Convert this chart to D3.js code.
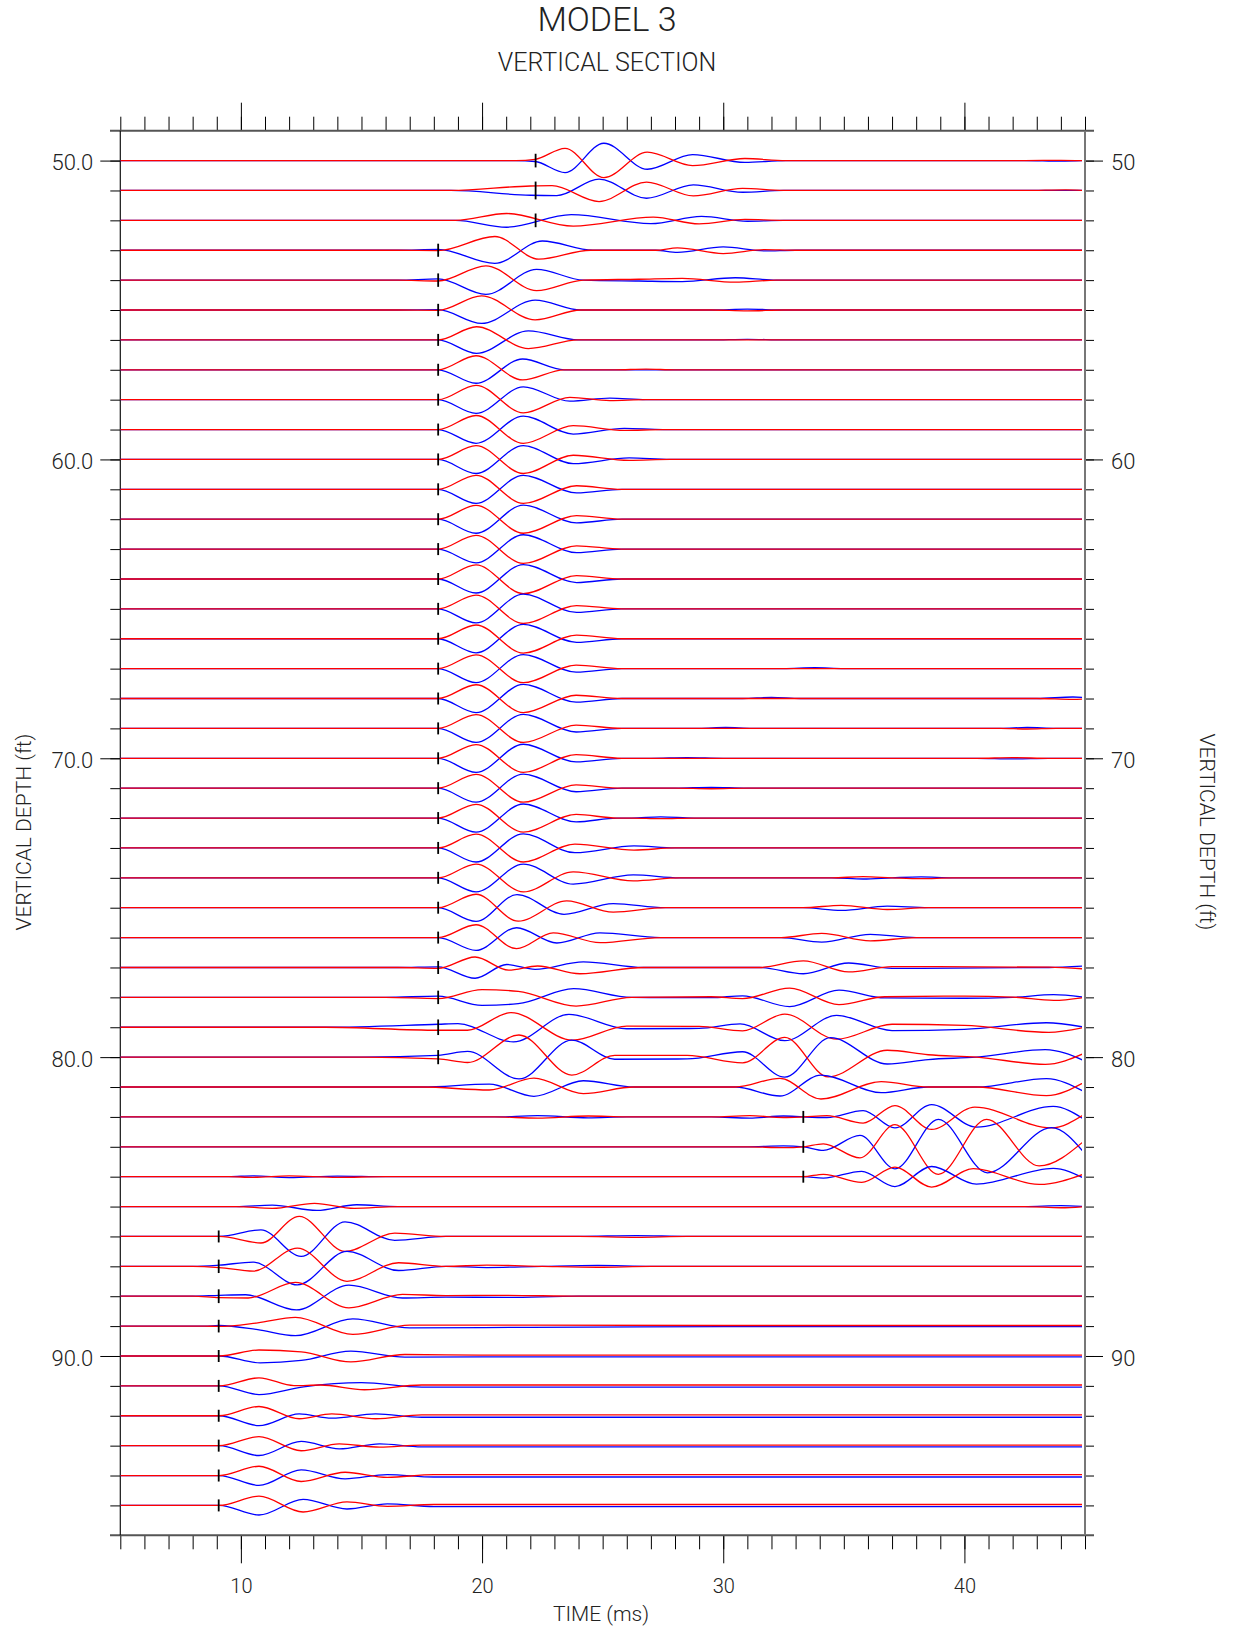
<!DOCTYPE html>
<html><head><meta charset="utf-8">
<script src="https://cdn.jsdelivr.net/npm/d3@7"></script>
<style>
body{margin:0;background:#fff;}
svg{display:block;}
text{font-family:Roboto,"DejaVu Sans",sans-serif;font-weight:300;fill:#222;}
</style>
</head><body>
<svg id="c" width="1233" height="1631"></svg>
<script>
// ---------------- DATA ----------------
const title = "MODEL 3";
const subtitle = "VERTICAL SECTION";
const xTitle = "TIME (ms)";
const yTitle = "VERTICAL DEPTH (ft)";
const xMajorTicks = [10, 20, 30, 40];
const xTickLabels = ["10", "20", "30", "40"];
const yMajorTicks = [50, 60, 70, 80, 90];
const yLeftLabels = ["50.0", "60.0", "70.0", "80.0", "90.0"];
const yRightLabels = ["50", "60", "70", "80", "90"];

const depths = [50,51,52,53,54,55,56,57,58,59,60,61,62,63,64,65,66,67,68,69,70,71,72,73,74,75,76,77,78,79,80,81,82,83,84,85,86,87,88,89,90,91,92,93,94,95];

// first-arrival pick (ms) per trace, null = no pick
const picks = [22.22,22.22,22.22,
  18.18,18.18,18.18,18.18,18.18,18.18,18.18,18.18,18.18,18.18,18.18,18.18,18.18,18.18,
  18.18,18.18,18.18,18.18,18.18,18.18,18.18,18.18,18.18,18.18,18.18,18.18,18.18,18.18,
  null,33.32,33.32,33.32,null,
  9.08,9.08,9.08,9.08,9.08,9.08,9.08,9.08,9.08,9.08];

// red component: [time ms, amplitude ft] control points per trace
const redTraces = [
 /*50*/[[5,0],[21.4,0],[22.2,0.04],[23.44,0.41],[25.05,-0.57],[26.85,0.28],[28.73,-0.17],[30.9,0.07],[32.6,0],[42.5,0],[44,0.01],[45,0]],
 /*51*/[[5,0],[18.7,0],[22.0,0.15],[22.9,0.16],[24.85,-0.37],[26.82,0.28],[28.76,-0.18],[30.8,0.07],[32.5,0],[42.5,0],[44.2,0.02],[45,0]],
 /*52*/[[5,0],[18.9,0],[21.02,0.23],[23.78,-0.19],[27.1,0.11],[29.0,-0.12],[30.9,0.03],[32.5,0],[45,0]],
 /*53*/[[5,0],[16.5,0],[18.18,-0.01],[20.53,0.46],[22.35,-0.30],[24.5,0],[27.2,0],[28.1,0.08],[30.0,-0.11],[31.7,0.02],[33,0],[45,0]],
 /*54*/[[5,0],[16.5,0],[18.18,-0.03],[20.16,0.48],[22.26,-0.35],[24.2,0],[26.5,0.03],[28.3,0.06],[30.5,-0.07],[32.2,0],[45,0]],
 /*55*/[[5,0],[16.5,0],[18.18,-0.01],[19.98,0.47],[22.2,-0.33],[24.1,0],[29.5,0],[31,-0.03],[32.5,0],[45,0]],
 /*56*/[[5,0],[17,0],[18.18,0],[19.77,0.44],[21.92,-0.29],[24.0,0],[45,0]],
 /*57*/[[5,0],[17,0],[18.18,0],[19.75,0.47],[21.68,-0.34],[23.4,0],[25.5,0],[26.8,0.02],[28,0],[45,0]],
 /*58*/[[5,0],[17,0],[18.18,0],[19.75,0.48],[21.71,-0.44],[23.64,0.08],[25.3,-0.03],[26.8,0],[45,0]],
 /*59*/[[5,0],[17,0],[18.18,0],[19.75,0.47],[21.71,-0.46],[23.78,0.13],[25.9,-0.03],[27.5,0],[45,0]],
 /*60*/[[5,0],[17,0],[18.18,0],[19.75,0.46],[21.71,-0.47],[23.78,0.14],[26.1,-0.03],[27.8,0],[45,0]],
 /*61*/[[5,0],[17,0],[18.18,0],[19.75,0.47],[21.71,-0.47],[23.92,0.12],[25.8,0],[45,0]],
 /*62*/[[5,0],[17,0],[18.18,0],[19.75,0.46],[21.71,-0.47],[23.92,0.12],[25.8,0],[45,0]],
 /*63*/[[5,0],[17,0],[18.18,0],[19.75,0.46],[21.71,-0.48],[23.92,0.11],[25.8,0],[45,0]],
 /*64*/[[5,0],[17,0],[18.18,0],[19.75,0.47],[21.71,-0.49],[23.92,0.11],[25.8,0],[45,0]],
 /*65*/[[5,0],[17,0],[18.18,0],[19.75,0.46],[21.71,-0.49],[23.92,0.11],[25.8,0],[45,0]],
 /*66*/[[5,0],[17,0],[18.18,0],[19.75,0.46],[21.71,-0.48],[23.92,0.12],[25.8,0],[45,0]],
 /*67*/[[5,0],[17,0],[18.18,0],[19.75,0.46],[21.71,-0.47],[23.9,0.12],[25.8,0],[45,0]],
 /*68*/[[5,0],[17,0],[18.18,0],[19.75,0.46],[21.71,-0.47],[23.9,0.11],[25.8,0],[43,0],[44.5,-0.03],[45,-0.02]],
 /*69*/[[5,0],[17,0],[18.18,0],[19.75,0.46],[21.71,-0.47],[23.9,0.11],[25.8,0],[41.5,0],[42.6,-0.02],[43.8,0],[45,0]],
 /*70*/[[5,0],[17,0],[18.18,0],[19.75,0.46],[21.71,-0.47],[23.9,0.12],[25.8,0],[40.5,0],[42,0.02],[43.5,0],[45,0]],
 /*71*/[[5,0],[17,0],[18.18,0],[19.75,0.46],[21.71,-0.47],[23.9,0.11],[25.8,0],[28,0],[29.5,-0.02],[31,0],[45,0]],
 /*72*/[[5,0],[17,0],[18.18,0],[19.75,0.46],[21.71,-0.47],[23.9,0.12],[25.6,0],[26.2,0],[27.4,-0.02],[28.8,0],[45,0]],
 /*73*/[[5,0],[17,0],[18.18,0],[19.75,0.46],[21.71,-0.47],[23.85,0.13],[26.3,-0.07],[28,0],[45,0]],
 /*74*/[[5,0],[17,0],[18.18,0],[19.75,0.46],[21.71,-0.47],[23.78,0.20],[26.27,-0.10],[28.2,0],[34.5,0],[35.8,0.04],[37,0],[38.2,-0.03],[39.5,0],[45,0]],
 /*75*/[[5,0],[17,0],[18.18,0],[19.75,0.45],[21.5,-0.45],[23.51,0.23],[25.44,-0.15],[27.6,0],[33.3,0],[34.9,0.08],[36.8,-0.06],[38.5,0],[45,0]],
 /*76*/[[5,0],[17,0],[18.18,0],[19.75,0.43],[21.43,-0.37],[22.95,0.16],[24.9,-0.17],[27.4,0],[32.4,0],[34.08,0.14],[36.1,-0.11],[38,0],[45,0]],
 /*77*/[[5,0],[16.5,0],[18.18,-0.03],[19.71,0.35],[21.1,-0.09],[22.3,0.05],[24.06,-0.21],[26.7,0],[31.5,0],[33.32,0.22],[35.2,-0.15],[37,0.03],[43.5,0.01],[45,-0.05]],
 /*78*/[[5,0],[16,0],[18.18,-0.04],[20.0,0.26],[21.5,0.20],[23.9,-0.29],[26.2,0],[29.5,0.02],[30.8,-0.04],[32.75,0.31],[34.8,-0.24],[36.7,0.02],[40,0.04],[42,0.01],[43.7,-0.10],[45,0]],
 /*79*/[[5,0],[13.5,0],[18.18,-0.10],[19.4,-0.10],[21.2,0.49],[23.75,-0.43],[26.0,0.04],[29.0,0.03],[30.8,-0.12],[32.55,0.44],[34.7,-0.40],[37.0,0.10],[40.0,0.06],[43.5,-0.17],[45,0]],
 /*80*/[[5,0],[15,0],[18.18,-0.06],[19.4,-0.18],[21.53,0.74],[23.72,-0.60],[25.5,0.06],[28.5,0.06],[30.8,-0.19],[32.55,0.66],[34.35,-0.66],[36.8,0.23],[38.5,0.08],[40.5,0],[43.35,-0.24],[45,0.14]],
 /*81*/[[5,0],[17.5,0],[20.3,-0.10],[22.15,0.30],[24.2,-0.22],[26.3,0],[30.5,0],[32.35,0.29],[34.05,-0.40],[36.55,0.18],[38.5,0],[40.5,0],[43.4,-0.29],[45,0.17]],
 /*82*/[[5,0],[20.5,0],[22.3,-0.04],[24.4,0.03],[26,0],[29.5,0],[31.1,0.04],[32.5,-0.02],[33.32,0],[34.3,0.04],[35.8,-0.21],[37.12,0.38],[38.64,-0.42],[40.43,0.33],[43.6,-0.37],[45,0.10]],
 /*83*/[[5,0],[31,0],[32.5,-0.03],[33.32,0],[34.15,0.10],[35.67,-0.37],[37.12,0.74],[38.92,-0.92],[40.92,0.92],[43.1,-0.64],[45,0.22]],
 /*84*/[[5,0],[9.5,0],[10.5,-0.02],[12,0.03],[14,-0.02],[16,0],[32,0],[33.32,0],[34.15,0.08],[35.74,-0.19],[37.12,0.32],[38.64,-0.35],[40.37,0.27],[43.1,-0.26],[45,0.10]],
 /*85*/[[5,0],[9.8,0],[11.3,-0.06],[13.05,0.11],[14.7,-0.06],[16.5,0],[42.5,0],[44,-0.04],[45,0]],
 /*86*/[[5,0],[8.5,0],[9.1,0],[10.83,-0.22],[12.42,0.67],[14.32,-0.50],[16.38,0.11],[18.5,0],[24,0],[26.4,-0.03],[28.5,0],[45,0]],
 /*87*/[[5,0],[8,0],[9.1,-0.04],[10.51,-0.16],[12.34,0.61],[14.4,-0.50],[16.54,0.12],[18.5,0],[20.2,0.04],[22.5,0],[24.8,-0.03],[27,0],[45,0]],
 /*88*/[[5,0],[8,0],[9.1,-0.05],[10.3,-0.06],[12.26,0.46],[14.48,-0.39],[16.7,0.06],[18.5,0.02],[21,0.03],[24,0],[45,0]],
 /*89*/[[5,0],[8.5,0],[9.1,-0.01],[10.7,0.11],[12.26,0.29],[14.64,-0.28],[17.0,0.03],[22,0.03],[30,0.02],[45,0.02]],
 /*90*/[[5,0],[8.5,0],[9.1,0],[10.75,0.20],[12.5,0.14],[14.56,-0.20],[16.8,0.05],[20,0.03],[45,0.03]],
 /*91*/[[5,0],[8.5,0],[9.1,0],[10.75,0.27],[12.2,0.01],[13.3,0.03],[15.12,-0.13],[17.5,0.03],[45,0.03]],
 /*92*/[[5,0],[8.5,0],[9.1,0],[10.75,0.31],[12.42,-0.10],[13.77,0.06],[15.59,-0.10],[17.5,0.03],[45,0.03]],
 /*93*/[[5,0],[8.5,0],[9.1,0],[10.75,0.30],[12.5,-0.17],[14.08,0.06],[15.75,-0.05],[17.5,0.02],[45,0.02]],
 /*94*/[[5,0],[8.5,0],[9.1,0],[10.75,0.31],[12.5,-0.20],[14.32,0.11],[16.07,-0.06],[18,0.03],[45,0.03]],
 /*95*/[[5,0],[8.5,0],[9.1,0],[10.75,0.31],[12.58,-0.22],[14.4,0.12],[16.07,-0.03],[18,0.03],[45,0.03]]
];

// blue component: [time ms, amplitude ft] control points per trace
const blueTraces = [
 /*50*/[[5,0],[21.4,0],[22.2,-0.03],[23.44,-0.40],[25.05,0.58],[26.85,-0.29],[28.73,0.20],[30.9,-0.06],[32.6,0],[42.5,0],[44,-0.02],[45,0]],
 /*51*/[[5,0],[18.7,0],[22.0,-0.16],[23.1,-0.17],[24.85,0.38],[26.82,-0.26],[28.76,0.19],[30.8,-0.06],[32.5,0],[45,0]],
 /*52*/[[5,0],[18.9,0],[21.02,-0.23],[23.7,0.19],[27.0,-0.11],[29.1,0.13],[31.0,-0.03],[32.5,0],[45,0]],
 /*53*/[[5,0],[16.5,0],[18.18,0.03],[20.53,-0.44],[22.5,0.31],[24.6,0],[27.2,0],[28.1,-0.07],[30.0,0.11],[31.7,-0.02],[33,0],[45,0]],
 /*54*/[[5,0],[16.5,0],[18.18,0.04],[20.16,-0.48],[22.26,0.36],[24.2,0],[26.5,-0.03],[28.3,-0.05],[30.5,0.08],[32.2,0],[45,0]],
 /*55*/[[5,0],[16.5,0],[18.18,0.01],[19.98,-0.45],[22.2,0.33],[24.1,0],[29.5,0],[31,0.03],[32.5,0],[45,0]],
 /*56*/[[5,0],[17,0],[18.18,0],[19.77,-0.45],[21.92,0.30],[24.0,0],[29.5,0],[31,0.02],[32.5,0],[45,0]],
 /*57*/[[5,0],[17,0],[18.18,0],[19.75,-0.45],[21.68,0.36],[23.4,0],[45,0]],
 /*58*/[[5,0],[17,0],[18.18,0],[19.75,-0.46],[21.71,0.43],[23.64,-0.05],[25.3,0.05],[26.8,0],[45,0]],
 /*59*/[[5,0],[17,0],[18.18,0],[19.75,-0.46],[21.71,0.45],[23.78,-0.15],[25.9,0.04],[27.5,0],[45,0]],
 /*60*/[[5,0],[17,0],[18.18,0],[19.75,-0.47],[21.71,0.46],[23.78,-0.14],[26.1,0.05],[27.8,0],[45,0]],
 /*61*/[[5,0],[17,0],[18.18,0],[19.75,-0.47],[21.71,0.47],[23.92,-0.12],[25.8,0],[45,0]],
 /*62*/[[5,0],[17,0],[18.18,0],[19.75,-0.47],[21.71,0.47],[23.92,-0.12],[25.8,0],[45,0]],
 /*63*/[[5,0],[17,0],[18.18,0],[19.75,-0.46],[21.71,0.48],[23.92,-0.12],[25.8,0],[45,0]],
 /*64*/[[5,0],[17,0],[18.18,0],[19.75,-0.47],[21.71,0.48],[23.92,-0.12],[25.8,0],[45,0]],
 /*65*/[[5,0],[17,0],[18.18,0],[19.75,-0.47],[21.71,0.49],[23.92,-0.12],[25.8,0],[45,0]],
 /*66*/[[5,0],[17,0],[18.18,0],[19.75,-0.47],[21.71,0.48],[23.92,-0.12],[25.8,0],[45,0]],
 /*67*/[[5,0],[17,0],[18.18,0],[19.75,-0.47],[21.71,0.47],[23.9,-0.12],[25.8,0],[32.5,0],[33.8,0.03],[35,0],[45,0]],
 /*68*/[[5,0],[17,0],[18.18,0],[19.75,-0.47],[21.71,0.47],[23.9,-0.12],[25.8,0],[30.8,0],[32,0.04],[33.2,0],[43,0],[44.5,0.05],[45,0.03]],
 /*69*/[[5,0],[17,0],[18.18,0],[19.75,-0.47],[21.71,0.47],[23.9,-0.12],[25.8,0],[29,0],[30.1,0.03],[31.2,0],[41.5,0],[42.6,0.03],[43.8,0],[45,0]],
 /*70*/[[5,0],[17,0],[18.18,0],[19.75,-0.47],[21.71,0.47],[23.9,-0.12],[25.8,0],[27,0],[28.5,0.02],[30,0],[40.5,0],[42,-0.02],[43.5,0],[45,0]],
 /*71*/[[5,0],[17,0],[18.18,0],[19.75,-0.47],[21.71,0.47],[23.9,-0.12],[25.8,0],[28,0],[29.5,0.03],[31,0],[45,0]],
 /*72*/[[5,0],[17,0],[18.18,0],[19.75,-0.47],[21.71,0.47],[23.9,-0.13],[25.6,0],[26.2,0],[27.4,0.04],[28.8,0],[45,0]],
 /*73*/[[5,0],[17,0],[18.18,0],[19.75,-0.47],[21.71,0.47],[23.85,-0.16],[26.3,0.07],[28,0],[45,0]],
 /*74*/[[5,0],[17,0],[18.18,0],[19.75,-0.47],[21.71,0.46],[23.78,-0.21],[26.27,0.10],[28.2,0],[34.5,0],[35.8,-0.04],[37,0],[38.2,0.03],[39.5,0],[45,0]],
 /*75*/[[5,0],[17,0],[18.18,0],[19.75,-0.46],[21.45,0.44],[23.4,-0.22],[25.44,0.14],[27.6,0],[33.3,0],[34.9,-0.09],[36.8,0.05],[38.5,0],[45,0]],
 /*76*/[[5,0],[17,0],[18.18,0],[19.75,-0.43],[21.43,0.33],[23.1,-0.18],[24.89,0.16],[27.4,0],[32.4,0],[34.08,-0.15],[36.1,0.11],[38,0],[45,0]],
 /*77*/[[5,0],[16.5,0],[18.18,0.02],[19.71,-0.36],[21.02,0.10],[22.2,-0.06],[24.2,0.19],[26.7,0],[31.5,0],[33.32,-0.21],[35.2,0.15],[37,-0.03],[43.5,0],[45,0.05]],
 /*78*/[[5,0],[16,0],[18.18,0.04],[20.0,-0.27],[21.5,-0.21],[23.8,0.29],[26.2,0],[29.5,-0.01],[30.8,0.05],[32.75,-0.31],[34.8,0.24],[36.7,-0.02],[40,-0.03],[42,0],[43.7,0.09],[45,0]],
 /*79*/[[5,0],[13.5,0],[18.18,0.10],[19.0,0.12],[21.3,-0.49],[23.6,0.43],[26.0,-0.05],[29.0,-0.04],[30.7,0.11],[32.55,-0.45],[34.7,0.40],[37.0,-0.11],[40.0,-0.07],[43.4,0.15],[45,0]],
 /*80*/[[5,0],[15,0],[18.18,0.06],[19.4,0.19],[21.53,-0.73],[23.72,0.57],[25.5,-0.07],[28.5,-0.06],[30.8,0.18],[32.55,-0.67],[34.45,0.65],[36.8,-0.23],[38.5,-0.08],[40.5,0],[43.35,0.25],[45,-0.13]],
 /*81*/[[5,0],[17.5,0],[20.3,0.10],[22.15,-0.31],[24.2,0.21],[26.3,0],[30.5,0],[32.35,-0.30],[34.05,0.40],[36.55,-0.19],[38.5,0],[40.5,0],[43.4,0.28],[45,-0.17]],
 /*82*/[[5,0],[20.5,0],[22.3,0.04],[24.4,-0.03],[26,0],[29.5,0],[31.1,-0.04],[32.5,0.03],[33.32,0],[34.3,-0.02],[35.8,0.21],[37.12,-0.37],[38.64,0.41],[40.5,-0.34],[43.68,0.35],[45,-0.10]],
 /*83*/[[5,0],[31,0],[32.5,0.03],[33.32,0],[34.15,-0.12],[35.67,0.38],[37.12,-0.74],[38.92,0.92],[40.95,-0.87],[43.61,0.64],[45,-0.23]],
 /*84*/[[5,0],[9.5,0],[10.5,0.03],[12,-0.03],[14,0.02],[16,0],[32,0],[33.32,0],[34.15,-0.05],[35.74,0.18],[37.12,-0.33],[38.64,0.34],[40.5,-0.25],[43.68,0.28],[45,-0.07]],
 /*85*/[[5,0],[9.8,0],[11.3,0.05],[13.15,-0.13],[14.8,0.06],[16.5,0],[42.5,0],[44,0.03],[45,0]],
 /*86*/[[5,0],[8.5,0],[9.1,0],[10.83,0.22],[12.5,-0.67],[14.32,0.49],[16.38,-0.13],[18.5,0],[24,0],[26.4,0.03],[28.5,0],[45,0]],
 /*87*/[[5,0],[8,0],[9.1,0.04],[10.51,0.14],[12.34,-0.62],[14.4,0.50],[16.54,-0.14],[18.5,0],[20.2,-0.04],[22.5,0],[24.8,0.03],[27,0],[45,0]],
 /*88*/[[5,0],[8,0],[9.1,0.03],[10.2,0.05],[12.3,-0.46],[14.48,0.37],[16.7,-0.06],[18.5,-0.03],[21,-0.04],[24,0],[45,0]],
 /*89*/[[5,0],[8.5,0],[9.1,0.02],[10.7,-0.12],[12.26,-0.32],[14.64,0.24],[17.0,-0.06],[22,-0.04],[30,-0.02],[45,-0.02]],
 /*90*/[[5,0],[8.5,0],[9.1,0],[10.8,-0.23],[12.5,-0.15],[14.56,0.16],[16.8,-0.04],[20,-0.03],[45,-0.03]],
 /*91*/[[5,0],[8.5,0],[9.1,0],[10.75,-0.29],[12.6,-0.03],[15.0,0.11],[17.5,-0.04],[45,-0.04]],
 /*92*/[[5,0],[8.5,0],[9.1,0],[10.75,-0.33],[12.42,0.06],[13.77,-0.08],[15.59,0.06],[17.5,-0.05],[45,-0.05]],
 /*93*/[[5,0],[8.5,0],[9.1,0],[10.75,-0.33],[12.5,0.14],[14.08,-0.11],[15.75,0.06],[17.5,-0.04],[45,-0.04]],
 /*94*/[[5,0],[8.5,0],[9.1,0],[10.75,-0.33],[12.5,0.19],[14.32,-0.11],[16.07,0.03],[18,-0.05],[45,-0.05]],
 /*95*/[[5,0],[8.5,0],[9.1,0],[10.75,-0.32],[12.58,0.20],[14.4,-0.12],[16.07,0.05],[18,-0.04],[45,-0.04]]
];

// ---------------- DRAWING ----------------
const svg = d3.select("#c");
const x = d3.scaleLinear().domain([5, 45]).range([120.3, 1085]);
const y = d3.scaleLinear().domain([49, 96]).range([130.7, 1535.3]);

// titles
svg.append("text").attr("x", 607).attr("y", 31).attr("text-anchor", "middle")
  .style("font-size", "34px").text(title);
svg.append("text").attr("x", 607).attr("y", 71).attr("text-anchor", "middle")
  .style("font-size", "25px").text(subtitle);
svg.append("text").attr("x", 601).attr("y", 1621).attr("text-anchor", "middle")
  .style("font-size", "21px").text(xTitle);
svg.append("text").attr("transform", "translate(31,832) rotate(-90)").attr("text-anchor", "middle")
  .style("font-size", "21px").text(yTitle);
svg.append("text").attr("transform", "translate(1200,832) rotate(90)").attr("text-anchor", "middle")
  .style("font-size", "21px").text(yTitle);

// axes
const minorX = d3.range(5, 46);
const minorY = depths;
function styleAxis(g) {
  g.select(".domain").remove();
  g.selectAll(".tick line").attr("stroke", "#000").attr("stroke-width", 1);
  g.selectAll(".tick text").style("font-size", null).attr("font-family", null);
}
svg.append("g").attr("transform", `translate(0,${y(49)})`)
  .call(d3.axisTop(x).tickValues(minorX).tickSize(14).tickFormat("")).call(styleAxis);
svg.append("g").attr("transform", `translate(0,${y(49)})`)
  .call(d3.axisTop(x).tickValues(xMajorTicks).tickSize(28).tickFormat("")).call(styleAxis);
svg.append("g").attr("transform", `translate(0,${y(96)})`)
  .call(d3.axisBottom(x).tickValues(minorX).tickSize(14).tickFormat("")).call(styleAxis);
const gb = svg.append("g").attr("transform", `translate(0,${y(96)})`)
  .call(d3.axisBottom(x).tickValues(xMajorTicks).tickSize(28).tickPadding(16)
    .tickFormat((d, i) => xTickLabels[i])).call(styleAxis);
gb.selectAll(".tick text").style("font-size", "20px").attr("fill", "#222");

svg.append("g").attr("transform", `translate(${x(5)},0)`)
  .call(d3.axisLeft(y).tickValues(minorY).tickSize(10).tickFormat("")).call(styleAxis);
const gl = svg.append("g").attr("transform", `translate(${x(5)},0)`)
  .call(d3.axisLeft(y).tickValues(yMajorTicks).tickSize(20).tickPadding(7)
    .tickFormat((d, i) => yLeftLabels[i])).call(styleAxis);
gl.selectAll(".tick text").style("font-size", "22px").attr("fill", "#222").attr("dy", "0.42em");

svg.append("g").attr("transform", `translate(${x(45)},0)`)
  .call(d3.axisRight(y).tickValues(minorY).tickSize(9).tickFormat("")).call(styleAxis);
const gr = svg.append("g").attr("transform", `translate(${x(45)},0)`)
  .call(d3.axisRight(y).tickValues(yMajorTicks).tickSize(18).tickPadding(8)
    .tickFormat((d, i) => yRightLabels[i])).call(styleAxis);
gr.selectAll(".tick text").style("font-size", "22px").attr("fill", "#222").attr("dy", "0.42em");

// frame
svg.append("line").attr("x1", 110).attr("x2", 1094).attr("y1", y(49)).attr("y2", y(49))
  .attr("stroke", "#555").attr("stroke-width", 2);
svg.append("line").attr("x1", 110).attr("x2", 1094).attr("y1", y(96)).attr("y2", y(96))
  .attr("stroke", "#555").attr("stroke-width", 2);
svg.append("line").attr("x1", x(5)).attr("x2", x(5)).attr("y1", y(49)).attr("y2", y(96))
  .attr("stroke", "#111").attr("stroke-width", 1.2);
svg.append("line").attr("x1", x(45)).attr("x2", x(45)).attr("y1", y(49)).attr("y2", y(96))
  .attr("stroke", "#777").attr("stroke-width", 2);

// clip
svg.append("clipPath").attr("id", "plotclip").append("rect")
  .attr("x", x(5)).attr("y", y(49)).attr("width", x(45) - x(5) - 3).attr("height", y(96) - y(49));

const traces = svg.append("g").attr("clip-path", "url(#plotclip)");
function lineFor(d) {
  return d3.line().x(p => x(p[0])).y(p => y(d - p[1])).curve(d3.curveMonotoneX);
}
depths.forEach((d, i) => {
  traces.append("path").attr("d", lineFor(d)(blueTraces[i]))
    .attr("fill", "none").attr("stroke", "#0000ff").attr("stroke-width", 1.3);
  traces.append("path").attr("d", lineFor(d)(redTraces[i]))
    .attr("fill", "none").attr("stroke", "#ff0000").attr("stroke-width", 1.3);
});

// picks
function ampAt(pts, t) {
  for (let k = 0; k < pts.length - 1; k++) {
    if (t >= pts[k][0] && t <= pts[k + 1][0]) {
      const f = (t - pts[k][0]) / (pts[k + 1][0] - pts[k][0]);
      return pts[k][1] + f * (pts[k + 1][1] - pts[k][1]);
    }
  }
  return 0;
}
const pxPerFt = y(51) - y(50);
depths.forEach((d, i) => {
  const t = picks[i];
  if (t == null) return;
  const a = Math.max(Math.abs(ampAt(redTraces[i], t)), Math.abs(ampAt(blueTraces[i], t)));
  const half = 6 + 0.6 * a * pxPerFt;
  svg.append("line").attr("x1", x(t)).attr("x2", x(t))
    .attr("y1", y(d) - half).attr("y2", y(d) + half)
    .attr("stroke", "#000").attr("stroke-width", 1.8);
});
</script>
</body></html>
